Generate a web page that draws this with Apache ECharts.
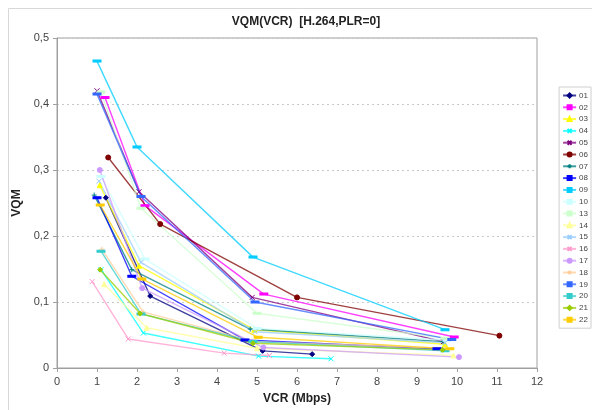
<!DOCTYPE html>
<html>
<head>
<meta charset="utf-8">
<script src="https://cdn.jsdelivr.net/npm/echarts@6/dist/echarts.min.js"></script>
<style>
  html, body { margin: 0; padding: 0; background: #fff; }
  #chart { width: 592px; height: 410px; }
</style>
</head>
<body>
<div id="chart"></div>
<script>
// data: [VCR (Mbps), VQM]
const seriesNames = ['01','02','03','04','05','06','07','08','09','10','13','14','15','16','17','18','19','20','21','22'];
const s01 = [[1.22,0.258],[2.33,0.109],[5.14,0.026],[6.38,0.021]];
const s02 = [[1.2,0.41],[2.2,0.246],[5.17,0.112],[9.93,0.047]];
const s03 = [[1.07,0.277],[2.05,0.155],[4.93,0.058],[9.7,0.036]];
const s04 = [[1.1,0.149],[2.16,0.053],[5.04,0.018],[6.85,0.014]];
const s05 = [[1.0,0.42],[2.05,0.267],[4.88,0.107],[9.66,0.04]];
const s06 = [[1.28,0.319],[2.58,0.218],[6.0,0.107],[11.06,0.049]];
const s07 = [[0.93,0.262],[1.87,0.149],[4.83,0.059],[9.65,0.04]];
const s08 = [[1.0,0.258],[1.87,0.139],[4.7,0.0425],[9.5,0.029]];
const s09 = [[1.0,0.465],[2.0,0.335],[4.9,0.168],[9.7,0.058]];
const s10 = [[1.1,0.29],[2.2,0.165],[5.0,0.06],[9.75,0.042]];
const s13 = [[1.1,0.418],[2.1,0.242],[5.0,0.083],[9.7,0.045]];
const s14 = [[1.18,0.127],[2.24,0.061],[5.0,0.03],[9.91,0.019]];
const s15 = [[1.05,0.283],[2.1,0.16],[4.95,0.055],[9.7,0.038]];
const s16 = [[0.88,0.131],[1.78,0.044],[4.18,0.0225],[5.31,0.019]];
const s17 = [[1.07,0.3],[2.13,0.121],[5.16,0.031],[10.05,0.0165]];
const s18 = [[1.12,0.18],[2.15,0.085],[4.95,0.04],[9.7,0.03]];
const s19 = [[1.0,0.415],[2.1,0.26],[4.95,0.1],[9.87,0.043]];
const s20 = [[1.1,0.177],[2.1,0.082],[4.9,0.04],[9.7,0.026]];
const s21 = [[1.08,0.149],[2.08,0.0825],[4.9,0.0375],[9.64,0.0275]];
const s22 = [[1.08,0.247],[2.12,0.135],[5.03,0.0465],[9.82,0.029]];
const seriesData = [s01,s02,s03,s04,s05,s06,s07,s08,s09,s10,s13,s14,s15,s16,s17,s18,s19,s20,s21,s22];
const xTicks = [0,1,2,3,4,5,6,7,8,9,10,11,12];
const yTicks = [0,0.1,0.2,0.3,0.4,0.5];

// excel-ish palette + marker per series
const colors = ['#000080','#ff00ff','#ffff00','#00ffff','#800080','#800000','#008080','#0000ff',
                '#00ccff','#ccffff','#ccffcc','#ffff99','#99ccff','#ff99cc','#cc99ff','#ffcc99',
                '#3366ff','#33cccc','#99cc00','#ffcc00'];
const XMARK = 'path://M0,0L10,10M10,0L0,10';
const PLUS = 'path://M5,0L5,10M0,5L10,5';
const DASH = 'rect';
const markers = ['diamond','rect','triangle',XMARK,XMARK,'circle',PLUS,DASH,
                 DASH,DASH,'rect','triangle',XMARK,XMARK,'circle',PLUS,
                 DASH,DASH,'diamond','rect'];

const el = document.getElementById('chart');
const inst = echarts.init(el, null, { renderer: 'canvas' });

const series = seriesData.map((d, i) => ({
  name: seriesNames[i],
  type: 'line',
  data: d,
  symbol: markers[i],
  symbolSize: markers[i] === DASH ? [6, 2] : 5,
  showAllSymbol: true,
  animation: false,
  lineStyle: { width: 1.4, color: colors[i], opacity: 0.75 },
  itemStyle: { color: colors[i], borderColor: colors[i], borderWidth: 1 }
}));

inst.setOption({
  backgroundColor: '#fff',
  textStyle: { fontFamily: 'Liberation Sans, Arial, sans-serif' },
  graphic: [{
    type: 'rect',
    shape: { x: 8.5, y: 8.5, width: 620, height: 440 },
    style: { fill: 'none', stroke: '#d8d8d8', lineWidth: 1 },
    silent: true
  }],
  title: {
    text: 'VQM(VCR)  [H.264,PLR=0]',
    left: 301, top: 11, textAlign: 'center',
    textStyle: { fontSize: 12, fontWeight: 'bold', color: '#222' }
  },
  grid: {
    left: 57, right: 55, top: 38, bottom: 38,
    show: true, borderColor: '#a0a0a0', borderWidth: 1
  },
  legend: {
    orient: 'vertical',
    right: 1, top: 87,
    itemWidth: 13, itemHeight: 5, itemGap: 2.8,
    padding: [4, 3, 4, 3],
    borderColor: '#cfcfcf', borderWidth: 1,
    textStyle: { fontSize: 8, color: '#444', lineHeight: 9, padding: [0, 0, 0, -2] },
    data: seriesNames
  },
  xAxis: {
    type: 'value',
    min: 0, max: 12, interval: 1,
    name: 'VCR (Mbps)', nameLocation: 'middle', nameGap: 25,
    nameTextStyle: { fontSize: 12, fontWeight: 'bold', color: '#222' },
    axisLine: { lineStyle: { color: '#a0a0a0' } },
    axisTick: { show: true, length: 4, lineStyle: { color: '#a0a0a0' } },
    axisLabel: { color: '#444', fontSize: 11, margin: 8,
      formatter: v => xTicks.includes(v) ? String(v) : '' },
    splitLine: { show: false }
  },
  yAxis: {
    type: 'value',
    min: 0, max: 0.5, interval: 0.1,
    name: 'VQM', nameLocation: 'middle', nameGap: 33, nameRotate: 90,
    nameTextStyle: { fontSize: 12, fontWeight: 'bold', color: '#222' },
    axisLine: { show: true, lineStyle: { color: '#a0a0a0' } },
    axisTick: { show: true, length: 4, lineStyle: { color: '#a0a0a0' } },
    axisLabel: { color: '#444', fontSize: 11, margin: 8,
      formatter: v => {
        const t = yTicks.find(k => Math.abs(k - v) < 1e-9);
        return t === undefined ? '' : (t === 0 ? '0' : t.toFixed(1).replace('.', ','));
      } },
    splitLine: { show: true, lineStyle: { color: '#c8c8c8', type: [2, 3] } }
  },
  series
});
</script>
</body>
</html>
